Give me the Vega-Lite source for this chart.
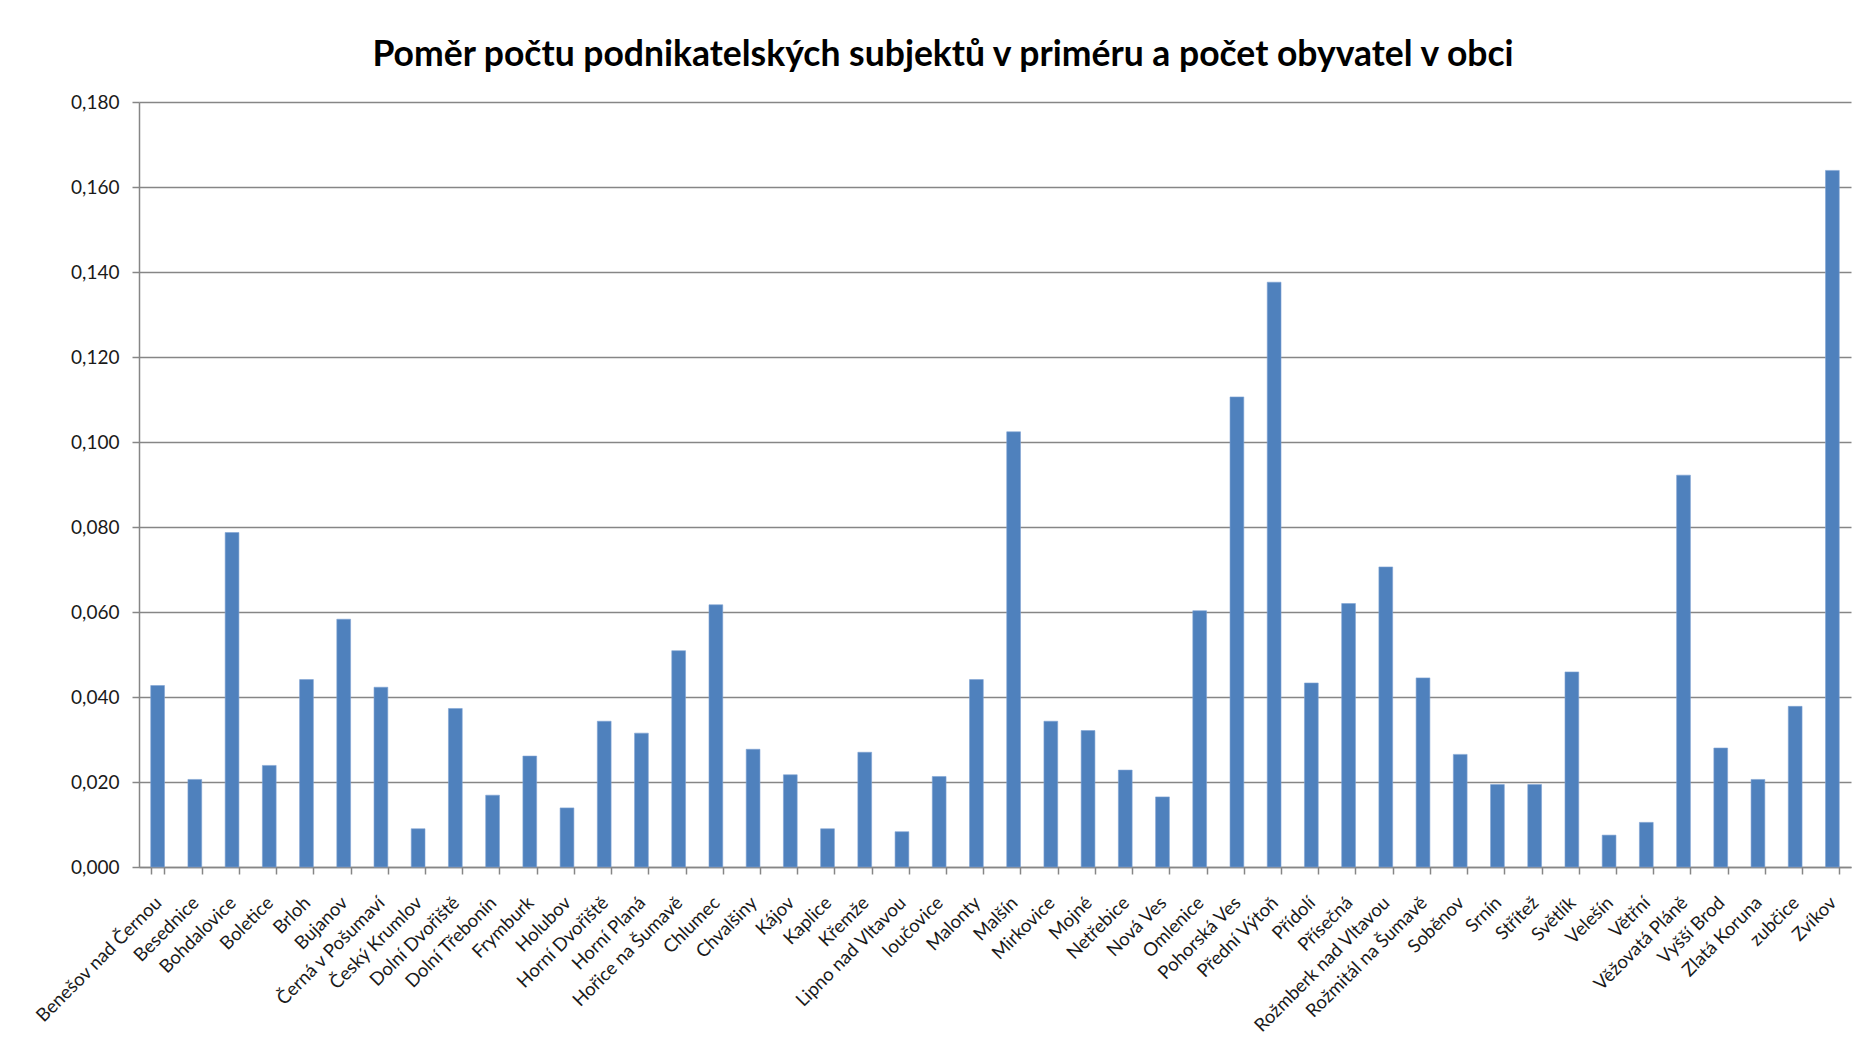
{
  "$schema": "https://vega.github.io/schema/vega-lite/v6.json",
  "autosize": {"type": "none"},
  "width": 1712,
  "height": 765,
  "padding": {"left": 139, "top": 102, "right": 8, "bottom": 193},
  "background": "#ffffff",
  "title": {
    "text": "Poměr počtu podnikatelských subjektů v priméru a počet obyvatel v obci",
    "font": "Lato",
    "fontSize": 35.5,
    "fontWeight": "bold",
    "color": "#000000",
    "anchor": "middle",
    "frame": "group",
    "baseline": "alphabetic",
    "offset": -8,
    "dx": -52
  },
  "data": {
    "values": [
      {"obec": "Benešov nad Černou", "pomer": 0.0427},
      {"obec": "Besednice", "pomer": 0.0206},
      {"obec": "Bohdalovice", "pomer": 0.0787},
      {"obec": "Boletice", "pomer": 0.0239},
      {"obec": "Brloh", "pomer": 0.0441},
      {"obec": "Bujanov", "pomer": 0.0583},
      {"obec": "Černá v Pošumaví", "pomer": 0.0423},
      {"obec": "Český Krumlov", "pomer": 0.0090},
      {"obec": "Dolní Dvořiště", "pomer": 0.0373},
      {"obec": "Dolní Třebonín", "pomer": 0.0169},
      {"obec": "Frymburk", "pomer": 0.0261},
      {"obec": "Holubov", "pomer": 0.0139},
      {"obec": "Horní Dvořiště", "pomer": 0.0343},
      {"obec": "Horní Planá", "pomer": 0.0315},
      {"obec": "Hořice na Šumavě", "pomer": 0.0509},
      {"obec": "Chlumec", "pomer": 0.0617},
      {"obec": "Chvalšiny", "pomer": 0.0277},
      {"obec": "Kájov", "pomer": 0.0217},
      {"obec": "Kaplice", "pomer": 0.0090},
      {"obec": "Křemže", "pomer": 0.0270},
      {"obec": "Lipno nad Vltavou", "pomer": 0.0083},
      {"obec": "loučovice", "pomer": 0.0213},
      {"obec": "Malonty", "pomer": 0.0441},
      {"obec": "Malšín", "pomer": 0.1024},
      {"obec": "Mirkovice", "pomer": 0.0343},
      {"obec": "Mojné", "pomer": 0.0321},
      {"obec": "Netřebice", "pomer": 0.0228},
      {"obec": "Nová Ves", "pomer": 0.0165},
      {"obec": "Omlenice", "pomer": 0.0603},
      {"obec": "Pohorská Ves", "pomer": 0.1106},
      {"obec": "Přední Výtoň", "pomer": 0.1376},
      {"obec": "Přídolí", "pomer": 0.0433},
      {"obec": "Přísečná", "pomer": 0.0620},
      {"obec": "Rožmberk nad Vltavou", "pomer": 0.0706},
      {"obec": "Rožmitál na Šumavě", "pomer": 0.0445},
      {"obec": "Soběnov", "pomer": 0.0265},
      {"obec": "Srnín", "pomer": 0.0194},
      {"obec": "Střítež", "pomer": 0.0194},
      {"obec": "Světlík", "pomer": 0.0459},
      {"obec": "Velešín", "pomer": 0.0075},
      {"obec": "Větřní", "pomer": 0.0105},
      {"obec": "Věžovatá Pláně", "pomer": 0.0922},
      {"obec": "Vyšší Brod", "pomer": 0.0280},
      {"obec": "Zlatá Koruna", "pomer": 0.0206},
      {"obec": "zubčice", "pomer": 0.0378},
      {"obec": "Zvíkov", "pomer": 0.1639}
    ]
  },
  "mark": {"type": "bar", "color": "#4F81BD", "stroke": "#7FA3D4", "strokeWidth": 0.6},
  "encoding": {
    "x": {
      "field": "obec",
      "type": "nominal",
      "sort": null,
      "scale": {"paddingInner": 0.63, "paddingOuter": 0.315},
      "axis": {
        "title": null,
        "labelAngle": -45,
        "labelAlign": "right",
        "labelBaseline": "top",
        "labelFont": "Lato",
        "labelFontSize": 18.5,
        "labelColor": "#1a1a1a",
        "labelPadding": 19,
        "labelOffset": -6,
        "labelOverlap": false,
        "labelLimit": 0,
        "tickBand": "extent",
        "tickSize": 7,
        "tickColor": "#868686",
        "tickWidth": 1.5,
        "domainColor": "#868686",
        "domainWidth": 1.5,
        "grid": false
      }
    },
    "y": {
      "field": "pomer",
      "type": "quantitative",
      "scale": {"domain": [0, 0.18], "nice": false},
      "axis": {
        "title": null,
        "values": [0, 0.02, 0.04, 0.06, 0.08, 0.1, 0.12, 0.14, 0.16, 0.18],
        "labelExpr": "replace(format(datum.value, '.3f'), '.', ',')",
        "labelFont": "Lato",
        "labelFontSize": 19,
        "labelColor": "#1a1a1a",
        "labelPadding": 13,
        "tickSize": 7,
        "tickColor": "#868686",
        "tickWidth": 1.5,
        "domainColor": "#868686",
        "domainWidth": 1.5,
        "grid": true,
        "gridColor": "#868686",
        "gridWidth": 1.5
      }
    }
  },
  "config": {
    "view": {"stroke": null}
  }
}
